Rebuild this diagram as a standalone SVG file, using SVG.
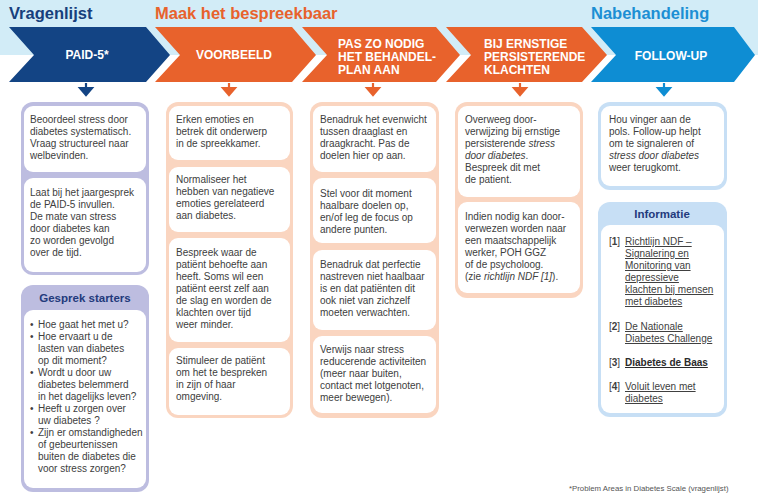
<svg xmlns="http://www.w3.org/2000/svg" width="758" height="495" viewBox="0 0 758 495">
<style>
  text { font-family: "Liberation Sans", Arial, sans-serif; }
  .t { font-size: 10px; fill: #404040; }
  .it { font-style: italic; }
  .h { font-size: 16.5px; font-weight: bold; }
  .cv { font-size: 12px; font-weight: bold; fill: #ffffff; }
  .ttl { font-size: 11.5px; font-weight: bold; fill: #233a7c; text-anchor: middle; }
  .card { fill: #ffffff; }
  .fr-lav { fill: #bdbde0; }
  .fr-pch { fill: #fad5c0; }
  .fr-blu { fill: #c7dff5; }
  .ar-dk { fill: #134484; stroke: #134484; }
  .ar-or { fill: #e8622c; stroke: #e8622c; }
  .ar-bl { fill: #0e8dd3; stroke: #0e8dd3; }
  .lnk { text-decoration: underline; }
  .fn { font-size: 7.8px; fill: #555555; }
</style>

<!-- header band -->
<rect x="0" y="0" width="758" height="55" fill="#d2ecf7"/>
<text class="h" x="9" y="19" fill="#173f7c">Vragenlijst</text>
<text class="h" x="155" y="19" fill="#e8622c">Maak het bespreekbaar</text>
<text class="h" x="591" y="19" fill="#1c8fd4">Nabehandeling</text>

<!-- chevrons -->
<g id="step-paid5">
  <polygon points="9,27 146,27 170,55 146,82 9,82 34,55" fill="#134484"/>
  <text class="cv" x="87" y="59" text-anchor="middle">PAID-5*</text>
</g>
<g id="step-voorbeeld">
  <polygon points="155,27 292,27 316,55 292,82 155,82 180,55" fill="#e8622c"/>
  <text class="cv" x="234" y="59" text-anchor="middle">VOORBEELD</text>
</g>
<g id="step-behandelplan">
  <polygon points="302,27 436,27 460,55 436,82 302,82 327,55" fill="#e8622c"/>
  <text class="cv" x="338" y="48">PAS ZO NODIG</text>
  <text class="cv" x="338" y="61">HET BEHANDEL-</text>
  <text class="cv" x="338" y="74">PLAN AAN</text>
</g>
<g id="step-ernstig">
  <polygon points="446,27 582,27 607,55 582,82 446,82 471,55" fill="#e8622c"/>
  <text class="cv" x="484" y="48">BIJ ERNSTIGE</text>
  <text class="cv" x="484" y="61">PERSISTERENDE</text>
  <text class="cv" x="484" y="74">KLACHTEN</text>
</g>
<g id="step-followup">
  <polygon points="591,27 734,27 755,55 734,82 591,82 616,55" fill="#0e8dd3"/>
  <text class="cv" x="671" y="60" text-anchor="middle">FOLLOW-UP</text>
</g>

<!-- connectors -->
<g id="connectors" stroke-width="2.2">
  <line class="ar-dk" x1="86" y1="83" x2="86" y2="89"/><polygon class="ar-dk" stroke="none" points="80,88 92,88 86,95"/>
  <line class="ar-or" x1="229" y1="83" x2="229" y2="89"/><polygon class="ar-or" stroke="none" points="223,88 235,88 229,95"/>
  <line class="ar-or" x1="373" y1="83" x2="373" y2="89"/><polygon class="ar-or" stroke="none" points="367,88 379,88 373,95"/>
  <line class="ar-or" x1="520" y1="83" x2="520" y2="89"/><polygon class="ar-or" stroke="none" points="514,88 526,88 520,95"/>
  <line class="ar-bl" x1="664" y1="83" x2="664" y2="89"/><polygon class="ar-bl" stroke="none" points="658,88 670,88 664,95"/>
</g>

<!-- column 1 -->
<g id="col-vragenlijst">
  <rect class="fr-lav" x="21" y="102" width="128" height="173" rx="12"/>
  <g id="card-beoordeel">
    <rect class="card" x="24" y="106" width="122" height="66" rx="9"/>
    <text class="t" x="30" y="123">Beoordeel stress door</text>
    <text class="t" x="30" y="135">diabetes systematisch.</text>
    <text class="t" x="30" y="147">Vraag structureel naar</text>
    <text class="t" x="30" y="159">welbevinden.</text>
  </g>
  <g id="card-jaargesprek">
    <rect class="card" x="24" y="178" width="122" height="94" rx="9"/>
    <text class="t" x="30" y="196">Laat bij het jaargesprek</text>
    <text class="t" x="30" y="208">de PAID-5 invullen.</text>
    <text class="t" x="30" y="220">De mate van stress</text>
    <text class="t" x="30" y="232">door diabetes kan</text>
    <text class="t" x="30" y="244">zo worden gevolgd</text>
    <text class="t" x="30" y="256">over de tijd.</text>
  </g>
</g>

<g id="box-gesprek-starters">
  <rect class="fr-lav" x="21" y="285" width="128" height="207" rx="12"/>
  <text class="ttl" x="85" y="302">Gesprek starters</text>
  <rect class="card" x="24" y="310" width="122" height="178" rx="9"/>
  <g class="t">
    <text x="30" y="328">•</text><text x="38" y="328">Hoe gaat het met u?</text>
    <text x="30" y="340">•</text><text x="38" y="340">Hoe ervaart u de</text>
    <text x="38" y="352">lasten van diabetes</text>
    <text x="38" y="364">op dit moment?</text>
    <text x="30" y="376">•</text><text x="38" y="376">Wordt u door uw</text>
    <text x="38" y="388">diabetes belemmerd</text>
    <text x="38" y="400">in het dagelijks leven?</text>
    <text x="30" y="412">•</text><text x="38" y="412">Heeft u zorgen over</text>
    <text x="38" y="424">uw diabetes ?</text>
    <text x="30" y="436">•</text><text x="38" y="436">Zijn er omstandigheden</text>
    <text x="38" y="448">of gebeurtenissen</text>
    <text x="38" y="460">buiten de diabetes die</text>
    <text x="38" y="472">voor stress zorgen?</text>
  </g>
</g>

<!-- column 2 -->
<g id="col-voorbeeld">
  <rect class="fr-pch" x="166" y="102" width="127" height="316" rx="12"/>
  <g id="card-erken">
    <rect class="card" x="169" y="106" width="121" height="54" rx="9"/>
    <text class="t" x="176" y="123">Erken emoties en</text>
    <text class="t" x="176" y="135">betrek dit onderwerp</text>
    <text class="t" x="176" y="147">in de spreekkamer.</text>
  </g>
  <g id="card-normaliseer">
    <rect class="card" x="169" y="167" width="121" height="65" rx="9"/>
    <text class="t" x="176" y="183">Normaliseer het</text>
    <text class="t" x="176" y="195">hebben van negatieve</text>
    <text class="t" x="176" y="207">emoties gerelateerd</text>
    <text class="t" x="176" y="219">aan diabetes.</text>
  </g>
  <g id="card-bespreek">
    <rect class="card" x="169" y="238" width="121" height="104" rx="9"/>
    <text class="t" x="176" y="256">Bespreek waar de</text>
    <text class="t" x="176" y="268">patiënt behoefte aan</text>
    <text class="t" x="176" y="280">heeft. Soms wil een</text>
    <text class="t" x="176" y="292">patiënt eerst zelf aan</text>
    <text class="t" x="176" y="304">de slag en worden de</text>
    <text class="t" x="176" y="316">klachten over tijd</text>
    <text class="t" x="176" y="328">weer minder.</text>
  </g>
  <g id="card-stimuleer">
    <rect class="card" x="169" y="348" width="121" height="67" rx="9"/>
    <text class="t" x="176" y="364">Stimuleer de patiënt</text>
    <text class="t" x="176" y="376">om het te bespreken</text>
    <text class="t" x="176" y="388">in zijn of haar</text>
    <text class="t" x="176" y="400">omgeving.</text>
  </g>
</g>

<!-- column 3 -->
<g id="col-behandelplan">
  <rect class="fr-pch" x="310" y="102" width="129" height="316" rx="12"/>
  <g id="card-evenwicht">
    <rect class="card" x="313" y="106" width="123" height="66" rx="9"/>
    <text class="t" x="320" y="123">Benadruk het evenwicht</text>
    <text class="t" x="320" y="135">tussen draaglast en</text>
    <text class="t" x="320" y="147">draagkracht. Pas de</text>
    <text class="t" x="320" y="159">doelen hier op aan.</text>
  </g>
  <g id="card-doelen">
    <rect class="card" x="313" y="178" width="123" height="65" rx="9"/>
    <text class="t" x="320" y="197">Stel voor dit moment</text>
    <text class="t" x="320" y="209">haalbare doelen op,</text>
    <text class="t" x="320" y="221">en/of leg de focus op</text>
    <text class="t" x="320" y="233">andere punten.</text>
  </g>
  <g id="card-perfectie">
    <rect class="card" x="313" y="250" width="123" height="80" rx="9"/>
    <text class="t" x="320" y="268">Benadruk dat perfectie</text>
    <text class="t" x="320" y="280">nastreven niet haalbaar</text>
    <text class="t" x="320" y="292">is en dat patiënten dit</text>
    <text class="t" x="320" y="304">ook niet van zichzelf</text>
    <text class="t" x="320" y="316">moeten verwachten.</text>
  </g>
  <g id="card-verwijs">
    <rect class="card" x="313" y="336" width="123" height="77" rx="9"/>
    <text class="t" x="320" y="353">Verwijs naar stress</text>
    <text class="t" x="320" y="365">reducerende activiteiten</text>
    <text class="t" x="320" y="377">(meer naar buiten,</text>
    <text class="t" x="320" y="389">contact met lotgenoten,</text>
    <text class="t" x="320" y="401">meer bewegen).</text>
  </g>
</g>

<!-- column 4 -->
<g id="col-ernstig">
  <rect class="fr-pch" x="455" y="102" width="128" height="196" rx="12"/>
  <g id="card-overweeg">
    <rect class="card" x="458" y="106" width="122" height="91" rx="9"/>
    <text class="t" x="465" y="123">Overweeg door-</text>
    <text class="t" x="465" y="135">verwijzing bij ernstige</text>
    <text class="t" x="465" y="147">persisterende <tspan class="it">stress</tspan></text>
    <text class="t" x="465" y="159"><tspan class="it">door diabetes</tspan>.</text>
    <text class="t" x="465" y="171">Bespreek dit met</text>
    <text class="t" x="465" y="183">de patient.</text>
  </g>
  <g id="card-doorverwijzen">
    <rect class="card" x="458" y="202" width="122" height="91" rx="9"/>
    <text class="t" x="465" y="220">Indien nodig kan door-</text>
    <text class="t" x="465" y="232">verwezen worden naar</text>
    <text class="t" x="465" y="244">een maatschappelijk</text>
    <text class="t" x="465" y="256">werker, POH GGZ</text>
    <text class="t" x="465" y="268">of de psycholoog.</text>
    <text class="t" x="465" y="280">(zie <tspan class="it">richtlijn NDF [1]</tspan>).</text>
  </g>
</g>

<!-- column 5 -->
<g id="col-followup">
  <rect class="fr-blu" x="598" y="102" width="129" height="88" rx="12"/>
  <g id="card-vinger">
    <rect class="card" x="601" y="106" width="123" height="80" rx="9"/>
    <text class="t" x="609" y="123">Hou vinger aan de</text>
    <text class="t" x="609" y="135">pols. Follow-up helpt</text>
    <text class="t" x="609" y="147">om te signaleren of</text>
    <text class="t" x="609" y="159" font-style="italic">stress door diabetes</text>
    <text class="t" x="609" y="171">weer terugkomt.</text>
  </g>
</g>

<g id="box-informatie">
  <rect class="fr-blu" x="598" y="202" width="129" height="215" rx="12"/>
  <text class="ttl" x="662" y="218">Informatie</text>
  <rect class="card" x="601" y="225" width="123" height="188" rx="9"/>
  <g class="t">
    <text x="609" y="245">[<tspan font-weight="bold">1</tspan>]</text>
    <text class="lnk" x="625" y="245">Richtlijn NDF –</text>
    <text class="lnk" x="625" y="257">Signalering en</text>
    <text class="lnk" x="625" y="269">Monitoring van</text>
    <text class="lnk" x="625" y="281">depressieve</text>
    <text class="lnk" x="625" y="293">klachten bij mensen</text>
    <text class="lnk" x="625" y="305">met diabetes</text>
    <text x="609" y="330">[<tspan font-weight="bold">2</tspan>]</text>
    <text class="lnk" x="625" y="330">De Nationale</text>
    <text class="lnk" x="625" y="342">Diabetes Challenge</text>
    <text x="609" y="366">[<tspan font-weight="bold">3</tspan>]</text>
    <text class="lnk" x="625" y="366" font-weight="bold" fill="#2a2a2a">Diabetes de Baas</text>
    <text x="609" y="390">[<tspan font-weight="bold">4</tspan>]</text>
    <text class="lnk" x="625" y="390">Voluit leven met</text>
    <text class="lnk" x="625" y="402">diabetes</text>
  </g>
</g>

<text class="fn" x="569" y="491">*Problem Areas in Diabetes Scale (vragenlijst)</text>
</svg>
